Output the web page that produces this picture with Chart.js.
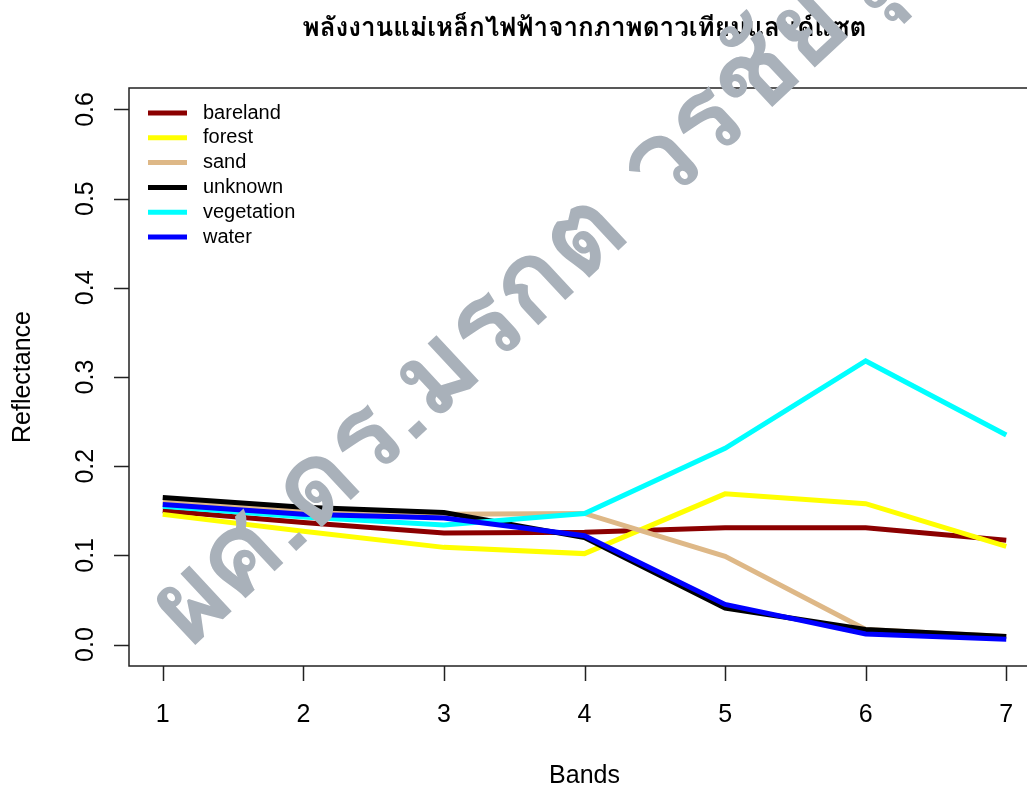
<!DOCTYPE html>
<html>
<head>
<meta charset="utf-8">
<script src="https://cdn.jsdelivr.net/npm/chart.js@4.4.1/dist/chart.umd.min.js"></script>
<style>
  html, body { margin: 0; padding: 0; background: #fff; overflow: hidden; width: 1027px; height: 790px; }
  canvas { display: block; }
</style>
</head>
<body>
<canvas id="c" width="1060" height="790"></canvas>
<script>
const titleText = "พลังงานแม่เหล็กไฟฟ้าจากภาพดาวเทียมแลนด์แซต";
const watermarkText = "ผศ.ดร.มรกต วรชัยรุ่งเรือง";
const xTitle = "Bands";
const yTitle = "Reflectance";

const bands = [1, 2, 3, 4, 5, 6, 7];
const xTickValues = [1, 2, 3, 4, 5, 6, 7];
const yTickValues = [0, 0.1, 0.2, 0.3, 0.4, 0.5, 0.6];
const yTickLabels = ["0.0", "0.1", "0.2", "0.3", "0.4", "0.5", "0.6"];

const seriesNames = ["bareland", "forest", "sand", "unknown", "vegetation", "water"];
const seriesColors = ["#8B0000", "#FFFF00", "#DEB887", "#000000", "#00FFFF", "#0000FF"];

const bareland   = [0.150, 0.137, 0.125, 0.126, 0.131, 0.131, 0.117];
const forest     = [0.146, 0.127, 0.109, 0.102, 0.169, 0.158, 0.110];
const sand       = [0.160, 0.151, 0.146, 0.147, 0.099, 0.017, 0.009];
const unknown    = [0.165, 0.154, 0.148, 0.120, 0.041, 0.017, 0.009];
const vegetation = [0.155, 0.143, 0.134, 0.147, 0.220, 0.318, 0.235];
const water      = [0.157, 0.146, 0.142, 0.122, 0.045, 0.012, 0.006];

const seriesValues = [bareland, forest, sand, unknown, vegetation, water];

const FONT = "'Liberation Sans', Arial, sans-serif";
const THAI = "'Tahoma', 'Loma', 'Garuda', 'Noto Sans Thai Looped', 'Noto Sans Thai', 'Noto Sans', 'DejaVu Sans', sans-serif";

const datasets = seriesNames.map((name, i) => ({
  label: name,
  data: bands.map((b, j) => ({ x: b, y: seriesValues[i][j] })),
  borderColor: seriesColors[i],
  backgroundColor: seriesColors[i],
  borderWidth: 5,
  pointRadius: 0,
  tension: 0,
  fill: false,
  order: seriesNames.length - i
}));

const rStyle = {
  id: 'rStyle',
  afterDatasetsDraw(chart) {
    const ctx = chart.ctx;
    const a = chart.chartArea;
    const xs = chart.scales.x, ys = chart.scales.y;
    ctx.save();
    ctx.strokeStyle = '#222';
    ctx.lineWidth = 1.5;
    ctx.strokeRect(a.left, a.top, a.right - a.left, a.bottom - a.top);
    ctx.beginPath();
    xTickValues.forEach(v => {
      const px = Math.round(xs.getPixelForValue(v)) + 0.5;
      ctx.moveTo(px, a.bottom);
      ctx.lineTo(px, a.bottom + 15);
    });
    yTickValues.forEach(v => {
      const py = Math.round(ys.getPixelForValue(v)) + 0.5;
      ctx.moveTo(a.left, py);
      ctx.lineTo(a.left - 15, py);
    });
    ctx.stroke();
    ctx.fillStyle = '#000';
    ctx.font = '25px ' + FONT;
    ctx.textAlign = 'center';
    ctx.textBaseline = 'middle';
    xTickValues.forEach(v => {
      ctx.fillText(String(v), xs.getPixelForValue(v), 715);
    });
    yTickValues.forEach((v, i) => {
      ctx.save();
      ctx.translate(86, ys.getPixelForValue(v));
      ctx.rotate(-Math.PI / 2);
      ctx.fillText(yTickLabels[i], 0, 0);
      ctx.restore();
    });
    ctx.fillText(xTitle, (a.left + a.right) / 2, 776);
    ctx.save();
    ctx.translate(23, (a.top + a.bottom) / 2);
    ctx.rotate(-Math.PI / 2);
    ctx.fillText(yTitle, 0, 0);
    ctx.restore();
    ctx.font = 'bold 26px ' + THAI;
    ctx.fillText(titleText, (a.left + a.right) / 2, 30);
    ctx.font = '20px ' + FONT;
    ctx.textAlign = 'left';
    seriesNames.forEach((name, i) => {
      const y = 113 + i * 24.8;
      ctx.strokeStyle = seriesColors[i];
      ctx.lineWidth = 5;
      ctx.beginPath();
      ctx.moveTo(148, y);
      ctx.lineTo(187, y);
      ctx.stroke();
      ctx.fillStyle = '#000';
      ctx.fillText(name, 203, y);
    });
    ctx.save();
    ctx.translate(190, 650);
    ctx.rotate(-43 * Math.PI / 180);
    ctx.font = 'bold 112px ' + THAI;
    ctx.fillStyle = '#A9B1BA';
    ctx.textAlign = 'left';
    ctx.textBaseline = 'alphabetic';
    ctx.fillText(watermarkText, 0, 0);
    ctx.restore();
    ctx.restore();
  }
};

new Chart(document.getElementById('c'), {
  type: 'line',
  data: { datasets },
  options: {
    responsive: false,
    animation: false,
    devicePixelRatio: 1,
    layout: { padding: { left: 129, right: 20, top: 88, bottom: 124 } },
    plugins: { legend: { display: false }, tooltip: { enabled: false }, title: { display: false } },
    scales: {
      x: { type: 'linear', min: 0.76, max: 7.24, display: false },
      y: { type: 'linear', min: -0.024, max: 0.624, display: false }
    }
  },
  plugins: [rStyle]
});
</script>
</body>
</html>
